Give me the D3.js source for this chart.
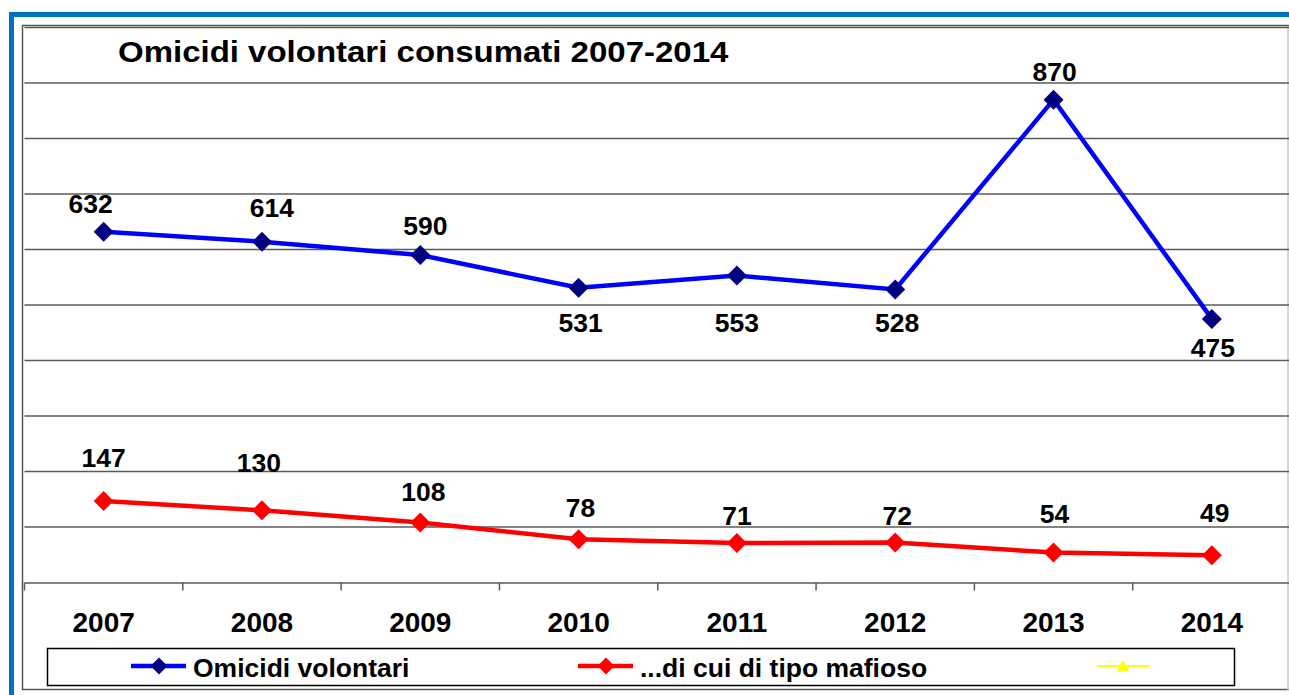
<!DOCTYPE html>
<html>
<head>
<meta charset="utf-8">
<script src="https://d3js.org/d3.v7.min.js"></script>
<style>
  body { margin:0; background:#fff; }
  svg { display:block; font-family:'Liberation Sans', Arial, sans-serif; }
</style>
</head>
<body>
<svg id="drawing_region"></svg>
<script>
// data
const years = ['2007','2008','2009','2010','2011','2012','2013','2014'];
const omicidi = [632, 614, 590, 531, 553, 528, 870, 475];
const mafiosi = [147, 130, 108, 78, 71, 72, 54, 49];
const yticks = [0,100,200,300,400,500,600,700,800,900,1000];
const legendNames = ['Omicidi volontari', '...di cui di tipo mafioso', ''];

// label placement (excel-style, per point) kept apart from values
const blueLabel = [[-13,-19],[10,-25],[5,-20],[2,44],[0,56],[2,43],[1,-19],[1,38]];
const redLabel  = [[0,-34],[-3,-38],[3,-22],[2,-22],[0,-18],[2,-18],[1,-30],[3,-33]];

class LineChart {

      constructor(config, data){
            this.config = {
                  parent: config.parent,
                  width: config.width || 1289,
                  height: config.height || 695,
                  margin: config.margin || {top:27.5, right:-2, bottom:112.5, left:24.5},
                  title: config.title || ''
            }
            this.data = data;
            this.init();
      }

      init(){
            let self = this;

            self.svg = d3.select( self.config.parent )
                  .attr('width', self.config.width)
                  .attr('height', self.config.height);

            // outer blue frame
            self.svg.append('rect')
                  .attr('x', 9).attr('y', 12)
                  .attr('width', self.config.width).attr('height', 5)
                  .attr('fill', '#0070c0');
            self.svg.append('rect')
                  .attr('x', 9).attr('y', 12)
                  .attr('width', 5).attr('height', self.config.height)
                  .attr('fill', '#0070c0');

            // chart border
            self.svg.append('rect')
                  .attr('x', 22.5).attr('y', 25.5)
                  .attr('width', self.config.width).attr('height', 664)
                  .attr('fill', 'none')
                  .attr('stroke', '#555')
                  .attr('stroke-width', 1.5);
            self.svg.append('line')
                  .attr('x1', 1288).attr('x2', 1288)
                  .attr('y1', 26).attr('y2', 690)
                  .attr('stroke', '#c8c8c8')
                  .attr('stroke-width', 1.5);

            self.chart = self.svg.append('g')
                  .attr('transform', `translate(${self.config.margin.left}, ${self.config.margin.top})`);

            self.inner_width = self.config.width - self.config.margin.left - self.config.margin.right;
            self.inner_height = self.config.height - self.config.margin.top - self.config.margin.bottom;

            self.xscale = d3.scaleBand()
                  .domain( years )
                  .range( [0, self.inner_width] );

            self.yscale = d3.scaleLinear()
                  .domain( [0, 1000] )
                  .range( [self.inner_height, 0] );

            // title, a bit wider than the font draws it
            self.svg.append('text')
                  .attr('transform', 'translate(118, 62) scale(1.1, 1)')
                  .style('font-size', '30px')
                  .style('font-weight', 'bold')
                  .text( self.config.title );
      }

      render(){
            let self = this;

            // gridlines
            self.chart.append('g')
                  .selectAll('line')
                  .data( yticks.slice(1) )
                  .join('line')
                  .attr('x1', 0)
                  .attr('x2', self.inner_width)
                  .attr('y1', d => self.yscale(d))
                  .attr('y2', d => self.yscale(d))
                  .attr('stroke', '#5a5a5a')
                  .attr('stroke-width', 1.5);

            // x axis with ticks between categories
            const xaxis = d3.axisBottom( self.xscale ).tickSize(0);
            const xg = self.chart.append('g')
                  .attr('transform', `translate(0, ${self.inner_height})`)
                  .call( xaxis );
            xg.select('.domain').attr('stroke', '#5a5a5a').attr('stroke-width', 1.5);
            xg.selectAll('text')
                  .attr('y', 49)
                  .attr('dy', null)
                  .style('font-size', '28px')
                  .style('font-weight', 'bold')
                  .style('font-family', "'Liberation Sans', Arial, sans-serif")
                  .attr('fill', '#000');
            xg.selectAll('.sep')
                  .data( years )
                  .join('line')
                  .attr('class', 'sep')
                  .attr('x1', d => self.xscale(d))
                  .attr('x2', d => self.xscale(d))
                  .attr('y1', 0).attr('y2', 8)
                  .attr('stroke', '#5a5a5a')
                  .attr('stroke-width', 1.5);

            const cx = d => self.xscale(d) + self.xscale.bandwidth() / 2;
            const diamond = r => `M0,${-r}L${r},0L0,${r}L${-r},0Z`;

            self.data.forEach( s => {
                  const pts = years.map( (y, i) => ({ year: y, v: s.values[i], lab: s.labels[i] }) );
                  const line = d3.line()
                        .x( d => cx(d.year) )
                        .y( d => self.yscale(d.v) );

                  self.chart.append('path')
                        .datum( pts )
                        .attr('d', line)
                        .attr('fill', 'none')
                        .attr('stroke', s.color)
                        .attr('stroke-width', 4.5);

                  self.chart.append('g')
                        .selectAll('path')
                        .data( pts )
                        .join('path')
                        .attr('transform', d => `translate(${cx(d.year)}, ${self.yscale(d.v)})`)
                        .attr('d', diamond(10))
                        .attr('fill', s.marker);

                  self.chart.append('g')
                        .selectAll('text')
                        .data( pts )
                        .join('text')
                        .attr('transform', d => `translate(${cx(d.year) + d.lab[0]}, ${self.yscale(d.v) + d.lab[1]}) scale(1.06, 1)`)
                        .attr('text-anchor', 'middle')
                        .style('font-size', '25px')
                        .style('font-weight', 'bold')
                        .text( d => d.v );
            });

            // legend
            const lg = self.svg.append('g');
            lg.append('rect')
                  .attr('x', 47.5).attr('y', 648.5)
                  .attr('width', 1187).attr('height', 37)
                  .attr('fill', '#fff')
                  .attr('stroke', '#000')
                  .attr('stroke-width', 1.5);

            const items = [
                  { name: legendNames[0], color: '#0000ff', marker: '#000080', x: 131, shape: 'd' },
                  { name: legendNames[1], color: '#ff0000', marker: '#ff0000', x: 578, shape: 'd' },
                  { name: legendNames[2], color: '#ffff00', marker: '#ffff00', x: 1097, shape: 't' }
            ];
            items.forEach( it => {
                  const g = lg.append('g').attr('transform', `translate(${it.x}, 666)`);
                  g.append('line')
                        .attr('x1', 0).attr('x2', it.shape == 't' ? 52 : 55)
                        .attr('stroke', it.color)
                        .attr('stroke-width', it.shape == 't' ? 2 : 4.5);
                  if (it.shape == 'd'){
                        g.append('path')
                              .attr('transform', 'translate(28,0)')
                              .attr('d', diamond(8.5))
                              .attr('fill', it.marker);
                  } else {
                        g.append('path')
                              .attr('transform', 'translate(26,0)')
                              .attr('d', 'M0,-6L6,5L-6,5Z')
                              .attr('fill', it.marker);
                  }
                  g.append('text')
                        .attr('x', 62)
                        .attr('y', 10.5)
                        .style('font-size', '26.5px')
                        .style('font-weight', 'bold')
                        .text( it.name );
            });
      }
}

const chart = new LineChart({
      parent: '#drawing_region',
      title: 'Omicidi volontari consumati 2007-2014'
}, [
      { values: omicidi, labels: blueLabel, color: '#0000ff', marker: '#000080' },
      { values: mafiosi, labels: redLabel, color: '#ff0000', marker: '#ff0000' }
]);
chart.render();
</script>
</body>
</html>
